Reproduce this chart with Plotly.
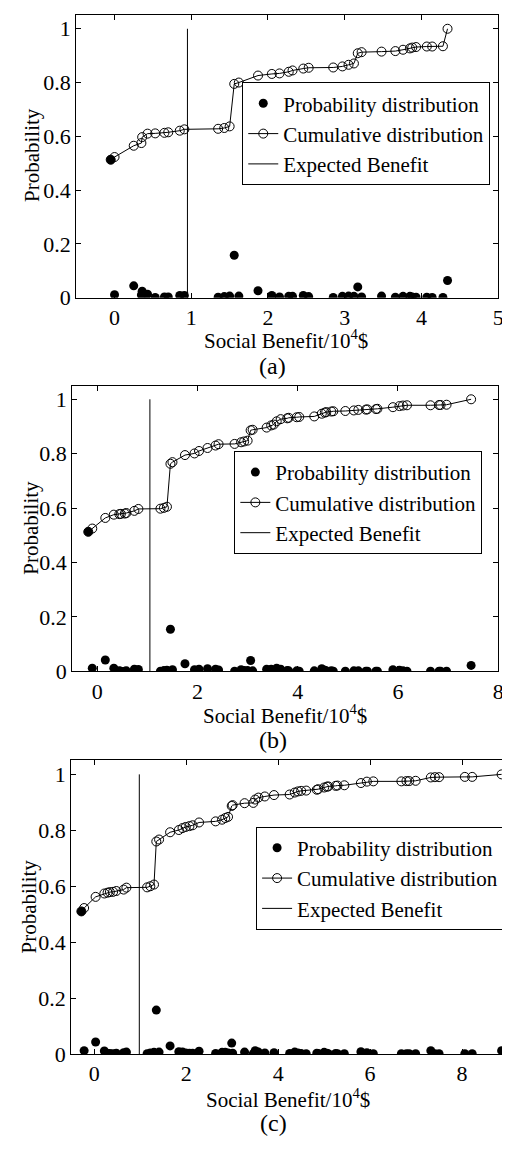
import plotly.graph_objects as go

# ---------------- data ----------------
# Panel (a)
xa = [-0.05, 0.00, 0.25, 0.35, 0.36, 0.43, 0.53, 0.65, 0.70, 0.85, 0.91, 1.35, 1.43, 1.50,
      1.56, 1.62, 1.87, 2.05, 2.15, 2.27, 2.32, 2.46, 2.53, 2.85, 2.97, 3.05, 3.12, 3.17,
      3.22, 3.48, 3.66, 3.76, 3.85, 3.88, 3.93, 4.07, 4.14, 4.28, 4.34]
pa = [0.513, 0.011, 0.044, 0.010, 0.024, 0.013, 0.001, 0.003, 0.003, 0.008, 0.008, 0.002,
      0.004, 0.006, 0.158, 0.006, 0.026, 0.008, 0.003, 0.005, 0.005, 0.008, 0.004, 0.001,
      0.005, 0.006, 0.005, 0.040, 0.003, 0.006, 0.002, 0.005, 0.005, 0.003, 0.002, 0.002,
      0.001, 0.001, 0.064]
ca = [0.513, 0.523, 0.565, 0.575, 0.597, 0.610, 0.611, 0.613, 0.615, 0.621, 0.626, 0.628,
      0.631, 0.637, 0.795, 0.800, 0.826, 0.832, 0.834, 0.840, 0.845, 0.852, 0.855, 0.856,
      0.860, 0.866, 0.871, 0.909, 0.913, 0.915, 0.917, 0.922, 0.927, 0.930, 0.932, 0.934,
      0.934, 0.935, 1.000]
ea = 0.95

# Panel (b)
xb = [-0.18, -0.10, 0.16, 0.33, 0.44, 0.47, 0.55, 0.58, 0.74, 0.82, 1.26, 1.33, 1.39, 1.46,
      1.50, 1.75, 1.94, 2.03, 2.20, 2.36, 2.42, 2.74, 2.87, 2.93, 3.00, 3.06, 3.10, 3.38,
      3.47, 3.52, 3.58, 3.66, 3.79, 3.82, 3.98, 4.03, 4.33, 4.48, 4.54, 4.57, 4.67, 4.71,
      4.95, 5.12, 5.21, 5.36, 5.39, 5.56, 5.59, 5.90, 6.03, 6.10, 6.18, 6.65, 6.82, 6.85,
      6.97, 7.46]
pb = [0.513, 0.012, 0.042, 0.012, 0.002, 0.001, 0.001, 0.002, 0.008, 0.007, 0.001, 0.003,
      0.004, 0.155, 0.006, 0.028, 0.006, 0.008, 0.010, 0.008, 0.005, 0.001, 0.006, 0.003,
      0.003, 0.040, 0.002, 0.008, 0.008, 0.003, 0.012, 0.008, 0.003, 0.002, 0.002, 0.001,
      0.002, 0.010, 0.004, 0.002, 0.002, 0.001, 0.001, 0.002, 0.002, 0.001, 0.001, 0.001,
      0.001, 0.006, 0.004, 0.002, 0.001, 0.001, 0.001, 0.001, 0.001, 0.022]
cb = [0.513, 0.525, 0.564, 0.576, 0.578, 0.579, 0.580, 0.582, 0.590, 0.597, 0.598, 0.601,
      0.605, 0.763, 0.769, 0.795, 0.801, 0.810, 0.821, 0.830, 0.835, 0.836, 0.842, 0.845,
      0.848, 0.886, 0.888, 0.896, 0.904, 0.907, 0.919, 0.927, 0.930, 0.932, 0.934, 0.935,
      0.937, 0.947, 0.951, 0.953, 0.955, 0.956, 0.957, 0.959, 0.961, 0.962, 0.963, 0.964,
      0.965, 0.971, 0.975, 0.977, 0.978, 0.978, 0.979, 0.979, 0.980, 1.000]
eb = 1.05

# Panel (c)
xc = [-0.28, -0.22, 0.03, 0.22, 0.29, 0.34, 0.41, 0.48, 0.64, 0.70, 1.15, 1.22, 1.30, 1.35,
      1.41, 1.65, 1.84, 1.92, 1.99, 2.07, 2.14, 2.28, 2.64, 2.78, 2.85, 2.91, 2.99, 3.01,
      3.27, 3.46, 3.50, 3.57, 3.71, 3.91, 4.25, 4.36, 4.43, 4.50, 4.61, 4.84, 4.87, 5.00,
      5.06, 5.09, 5.25, 5.29, 5.44, 5.80, 5.93, 6.07, 6.68, 6.79, 6.85, 6.99, 7.32, 7.41,
      7.50, 8.06, 8.22, 8.86]
pc = [0.510, 0.012, 0.043, 0.011, 0.002, 0.002, 0.001, 0.003, 0.005, 0.007, 0.001, 0.004,
      0.006, 0.157, 0.007, 0.029, 0.008, 0.007, 0.004, 0.003, 0.003, 0.010, 0.002, 0.006,
      0.006, 0.004, 0.039, 0.003, 0.007, 0.001, 0.012, 0.007, 0.004, 0.005, 0.002, 0.007,
      0.004, 0.002, 0.001, 0.003, 0.002, 0.006, 0.003, 0.001, 0.002, 0.001, 0.001, 0.008,
      0.005, 0.001, 0.001, 0.001, 0.001, 0.001, 0.012, 0.001, 0.001, 0.001, 0.001, 0.012]
cc = [0.510, 0.522, 0.562, 0.574, 0.577, 0.579, 0.580, 0.583, 0.588, 0.595, 0.596, 0.600,
      0.606, 0.760, 0.767, 0.793, 0.801, 0.808, 0.812, 0.815, 0.818, 0.828, 0.832, 0.838,
      0.844, 0.848, 0.887, 0.890, 0.897, 0.898, 0.910, 0.917, 0.921, 0.926, 0.928, 0.935,
      0.939, 0.941, 0.942, 0.945, 0.947, 0.953, 0.956, 0.957, 0.959, 0.960, 0.961, 0.969,
      0.974, 0.975, 0.975, 0.976, 0.976, 0.977, 0.989, 0.990, 0.990, 0.991, 0.991, 1.000]
ec = 0.98

x_ranges = [[-0.5, 5], [-0.5, 8], [-0.5, 9]]
x_ticks = [[0, 1, 2, 3, 4, 5], [0, 2, 4, 6, 8], [0, 2, 4, 6, 8]]
y_ticks = [0, 0.2, 0.4, 0.6, 0.8, 1]
y_ticklabels = ["0", "0.2", "0.4", "0.6", "0.8", "1"]
panel_labels = ["(a)", "(b)", "(c)"]
x_title = "Social Benefit/10<sup>4</sup>$"
y_title = "Probability"
legend_names = ["Probability distribution", "Cumulative distribution", "Expected Benefit"]

# ---------------- layout geometry (pixels) ----------------
W, H = 510, 1149
FONT = "Liberation Serif"
# (left, right, top, bottom) of each plot area
boxes = [(69, 496, 7.4, 293), (65, 496, 382, 671), (64, 506, 761, 1058)]
xt_pos = [(281, 335), (280, 715), (283, 1103)]
lab_pos = [(268, 362), (268, 740), (269, 1128)]
yt_pos = [(25, 149), (23, 526), (21, 909)]
leg_pos = [(488, 75), (480, 448), (502, 828)]

def px(x):
    return x / W

def py(y):
    return 1 - y / H

fig = go.Figure()
data = [(xa, pa, ca, ea), (xb, pb, cb, eb), (xc, pc, cc, ec)]
annotations = []
layout = dict(
    width=W, height=H, margin=dict(l=0, r=0, t=0, b=0),
    paper_bgcolor="white", plot_bgcolor="white",
    font=dict(family=FONT, color="black"),
    showlegend=True,
)
for i, (xs, ps, cs, e) in enumerate(data):
    n = "" if i == 0 else str(i + 1)
    xa_name, ya_name = "x" + n, "y" + n
    leg = "legend" + n
    fig.add_trace(go.Scatter(x=xs, y=ps, mode="markers", name=legend_names[0],
                             marker=dict(symbol="circle", size=9, color="black"),
                             xaxis=xa_name, yaxis=ya_name, legend=leg))
    fig.add_trace(go.Scatter(x=xs, y=cs, mode="lines+markers", name=legend_names[1],
                             line=dict(color="black", width=1),
                             marker=dict(symbol="circle-open", size=9, color="black",
                                         line=dict(width=1)),
                             xaxis=xa_name, yaxis=ya_name, legend=leg))
    fig.add_trace(go.Scatter(x=[e, e], y=[0, 1], mode="lines", name=legend_names[2],
                             line=dict(color="black", width=1),
                             xaxis=xa_name, yaxis=ya_name, legend=leg))
    l, r, t, b = boxes[i]
    common = dict(showline=True, linecolor="black", linewidth=1, mirror="ticks",
                  ticks="inside", ticklen=5, tickcolor="black", showgrid=False,
                  zeroline=False, tickfont=dict(family=FONT, size=22, color="black"))
    layout["xaxis" + n] = dict(domain=[px(l), px(r)], range=x_ranges[i],
                               tickvals=x_ticks[i], anchor=ya_name, **common)
    layout["yaxis" + n] = dict(domain=[py(b), py(t)], range=[0, 1.05],
                               tickvals=y_ticks, ticktext=y_ticklabels,
                               anchor=xa_name, **common)
    lx, ly = leg_pos[i]
    layout[leg] = dict(x=px(lx), y=py(ly), xanchor="right", yanchor="top",
                       bgcolor="white", bordercolor="black", borderwidth=1,
                       font=dict(family=FONT, size=21, color="black"),
                       itemwidth=30, tracegroupgap=0)
    annotations.append(dict(text=x_title, x=px(xt_pos[i][0]), y=py(xt_pos[i][1]),
                            xref="paper", yref="paper", showarrow=False,
                            xanchor="center", yanchor="middle",
                            font=dict(family=FONT, size=21, color="black")))
    annotations.append(dict(text=panel_labels[i], x=px(lab_pos[i][0]), y=py(lab_pos[i][1]),
                            xref="paper", yref="paper", showarrow=False,
                            xanchor="center", yanchor="middle",
                            font=dict(family=FONT, size=24, color="black")))
    annotations.append(dict(text=y_title, x=px(yt_pos[i][0]), y=py(yt_pos[i][1]),
                            xref="paper", yref="paper", showarrow=False, textangle=-90,
                            xanchor="center", yanchor="middle",
                            font=dict(family=FONT, size=21, color="black")))

layout["annotations"] = annotations
fig.update_layout(**layout)
fig.write_html("out.html")
